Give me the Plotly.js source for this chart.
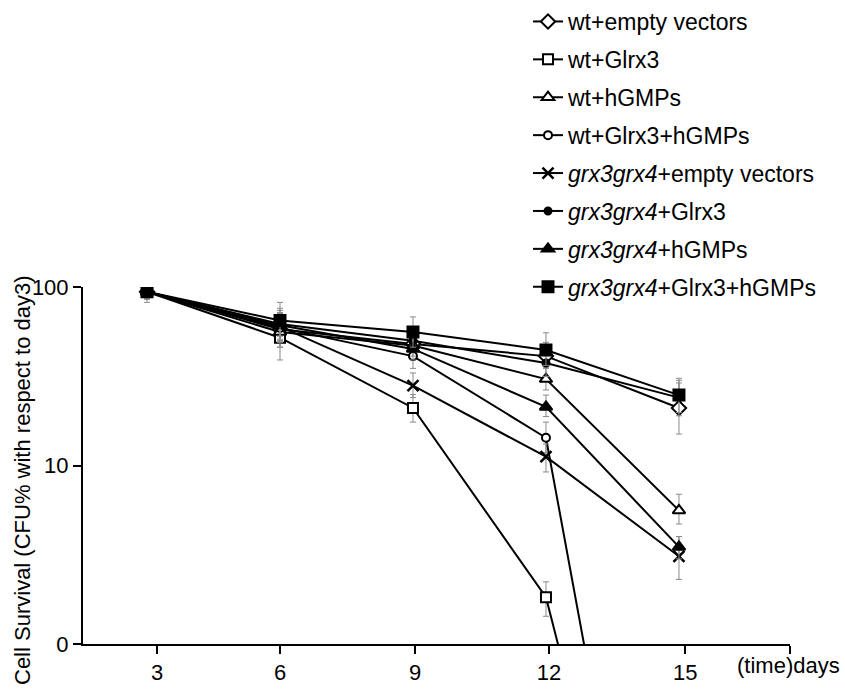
<!DOCTYPE html>
<html>
<head>
<meta charset="utf-8">
<script src="https://cdn.plot.ly/plotly-3.0.1.min.js"></script>
<style>html,body{margin:0;padding:0;background:#fff;}#chart{width:845px;height:690px;}</style>
</head>
<body>
<div id="chart"></div>
<script>
// ---- data ----
const days = [3, 6, 9, 12, 15];
const seriesNames = [
  "wt+empty vectors",
  "wt+Glrx3",
  "wt+hGMPs",
  "wt+Glrx3+hGMPs",
  "<i>grx3grx4</i>+empty vectors",
  "<i>grx3grx4</i>+Glrx3",
  "<i>grx3grx4</i>+hGMPs",
  "<i>grx3grx4</i>+Glrx3+hGMPs"
];
const wtEmpty        = [94, 58, 48, 41, 21];
const wtGlrx3        = [94, 52, 21, 1.83, 0.0022];
const wtHGMPs        = [94, 56, 47, 30.5, 5.6];
const wtGlrx3HGMPs   = [94, 59, 41, 14.3, 0.0013];
const grxEmpty       = [94, 60, 28, 11.2, 3.1];
const grxGlrx3       = [94, 62, 50, 37.5, 24];
const grxHGMPs       = [94, 61, 45, 21.3, 3.5];
const grxGlrx3HGMPs  = [94, 65, 56, 44.4, 24.8];

const errPlus = [
  [8, 14, 10, 8, 8],
  [8, 10, 4, 0.4, 0],
  [8, 12, 8, 5, 1.3],
  [8, 12, 7, 3.2, 0],
  [8, 12, 5, 2, 0.9],
  [8, 14, 10, 8, 6],
  [8, 13, 8, 3.5, 0.5],
  [9, 17, 12, 11, 6]
];
const errMinus = [
  [8, 12, 8, 6, 6],
  [8, 13, 3.5, 0.4, 0],
  [8, 10, 7, 4, 0.9],
  [8, 10, 6, 2.5, 0],
  [8, 10, 4, 2, 0.8],
  [8, 12, 9, 6, 5],
  [8, 10, 6, 2.5, 0.5],
  [12, 12, 10, 8, 5]
];

const xTickVals = [3.23, 6.0, 9.05, 12.07, 15.14, 17.5];
const xTickText = ["3", "6", "9", "12", "15", ""];
const yTickVals = [1, 10, 100];
const yTickText = ["0", "10", "100"];

// ---- styles ----
const values = [wtEmpty, wtGlrx3, wtHGMPs, wtGlrx3HGMPs, grxEmpty, grxGlrx3, grxHGMPs, grxGlrx3HGMPs];
const symbols = ["diamond", "square", "triangle-up", "circle", "x-thin", "circle", "triangle-up", "square"];
const fills   = ["white", "white", "white", "white", "black", "black", "black", "black"];
const sizes   = [11, 10, 11, 8, 11, 7, 11, 11];

const traces = values.map((v, i) => ({
  x: days,
  y: v,
  name: seriesNames[i],
  legendgroup: "g" + i,
  type: "scatter",
  mode: "lines+markers",
  line: {color: "black", width: 2},
  marker: {
    symbol: symbols[i],
    size: sizes[i],
    color: fills[i],
    line: {color: "black", width: symbols[i] === "x-thin" ? 2.5 : 2}
  },
  error_y: {
    type: "data",
    symmetric: false,
    array: errPlus[i],
    arrayminus: errMinus[i],
    color: "#8a8a8a",
    thickness: 1,
    width: 3
  }
}));

const PL = 83, PR = 790, PT = 287, PB = 644;
const PW = PR - PL, PH = PB - PT;

const layout = {
  width: 845,
  height: 690,
  margin: {l: PL, r: 845 - PR, t: PT, b: 690 - PB, pad: 0, autoexpand: false},
  paper_bgcolor: "white",
  plot_bgcolor: "white",
  font: {family: "Liberation Sans, Arial, sans-serif", color: "black", size: 21},
  showlegend: true,
  legend: {
    xref: "paper", yref: "paper",
    x: (528 - PL) / PW, y: (PB - 0) / PH,
    xanchor: "left", yanchor: "top",
    font: {size: 23, color: "black"},
    itemwidth: 30,
    tracegroupgap: 5,
    bgcolor: "rgba(0,0,0,0)"
  },
  xaxis: {
    range: [1.556, 17.505],
    showgrid: false, zeroline: false,
    showline: true, linecolor: "black", linewidth: 2,
    ticks: "outside", ticklen: 8, tickwidth: 2, tickcolor: "black",
    tickmode: "array", tickvals: xTickVals, ticktext: xTickText,
    tickfont: {size: 22}
  },
  yaxis: {
    type: "log",
    range: [0, 2],
    showgrid: false, zeroline: false,
    showline: true, linecolor: "black", linewidth: 2,
    ticks: "outside", ticklen: 8, tickwidth: 2, tickcolor: "black",
    tickmode: "array", tickvals: yTickVals, ticktext: yTickText,
    tickfont: {size: 22}
  },
  annotations: [
    {
      text: "(time)days", xref: "paper", yref: "paper",
      x: (735 - PL) / PW, y: (PB - 665) / PH,
      xanchor: "left", yanchor: "middle", showarrow: false,
      font: {size: 22}
    },
    {
      text: "Cell Survival (CFU% with respect to day3)", xref: "paper", yref: "paper",
      x: (22 - PL) / PW, y: (PB - 480) / PH,
      xanchor: "center", yanchor: "middle", textangle: -90, showarrow: false,
      font: {size: 22}
    }
  ]
};

Plotly.newPlot("chart", traces, layout, {displayModeBar: false, staticPlot: true});
</script>
</body>
</html>
